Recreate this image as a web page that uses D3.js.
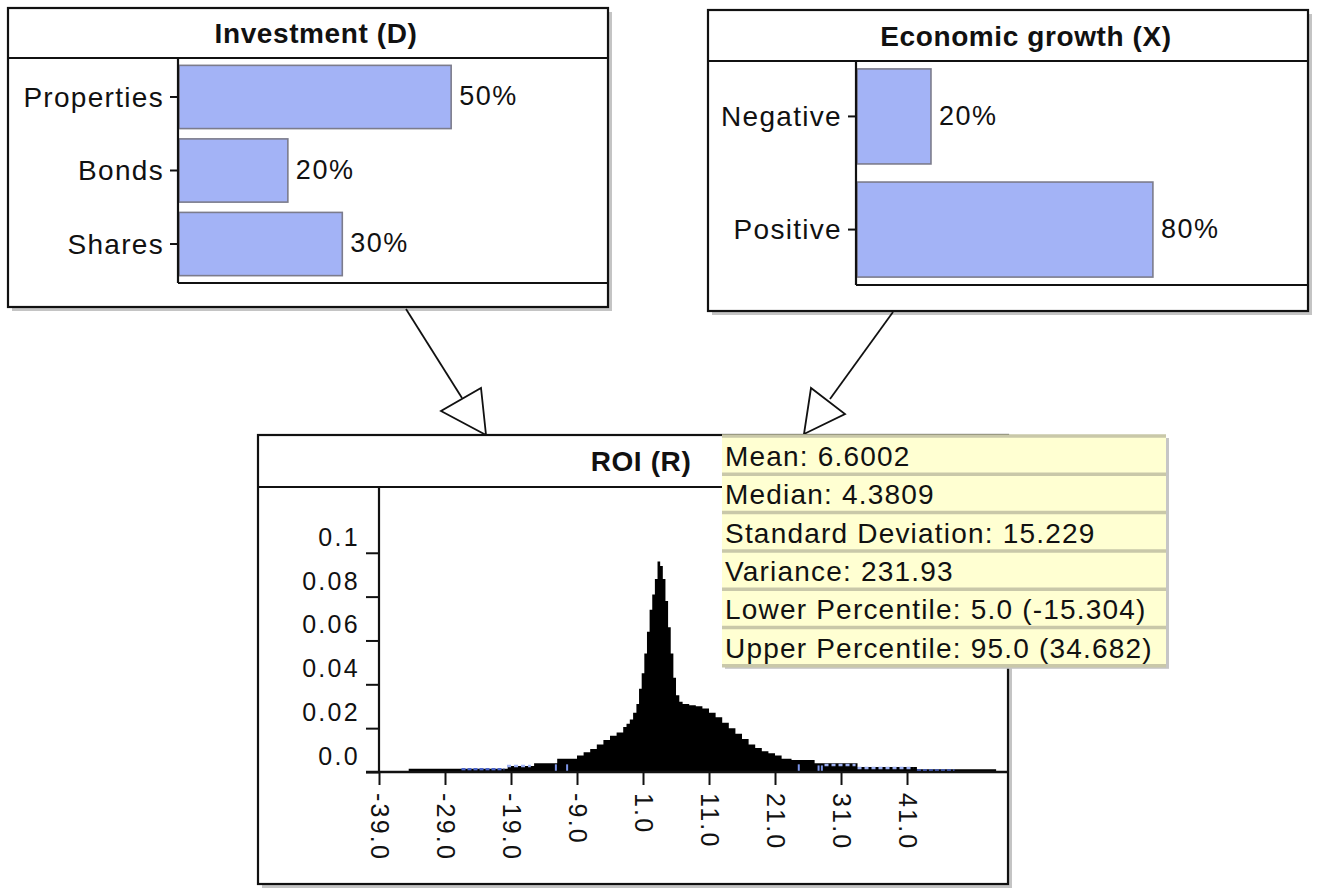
<!DOCTYPE html>
<html>
<head>
<meta charset="utf-8">
<script src="https://cdn.jsdelivr.net/npm/d3@7"></script>
<style>
  body { margin: 0; background: #fff; }
  text { font-family: "Liberation Sans", Arial, sans-serif; fill: #111; }
</style>
</head>
<body>
<svg id="chart" width="1317" height="888"></svg>
<script>
// node: Investment (D)
const investCats = ["Properties", "Bonds", "Shares"];
const investVals = [0.5, 0.2, 0.3];

// node: Economic growth (X)
const growthCats = ["Negative", "Positive"];
const growthVals = [0.2, 0.8];

// node: ROI (R) - histogram, bin start edges (last one closes the final bin)
const roiEdges = [-39, -34.5, -19.5, -15.5, -12, -9, -8, -7, -6, -5, -4, -3, -2, -1.5, -1, -0.5,
  0, 0.4, 0.8, 1.2, 1.6, 2.0, 2.4, 2.8, 3.2, 3.6, 4.0, 4.4, 4.8, 5.2, 5.6, 6.0, 6.5,
  7, 8, 9, 10, 11, 12, 13, 14, 15, 16, 17, 18, 19, 20, 21, 22, 23.5, 27, 33.5, 42.5, 54.5, 56.3];
const roiDensity = [0.0004, 0.0015, 0.0027, 0.004, 0.006, 0.0075, 0.009, 0.0105, 0.0125, 0.0146, 0.0165, 0.018, 0.0205, 0.022, 0.024, 0.027,
  0.031, 0.038, 0.045, 0.054, 0.064, 0.074, 0.081, 0.088, 0.096, 0.094, 0.088, 0.078, 0.066, 0.054, 0.043, 0.035, 0.032,
  0.031, 0.0305, 0.030, 0.029, 0.027, 0.025, 0.0225, 0.020, 0.0175, 0.015, 0.0125, 0.011, 0.0095, 0.0085, 0.0075, 0.006, 0.0055, 0.004, 0.0023, 0.0012, 0.0005];
const roiYTicks = [0, 0.02, 0.04, 0.06, 0.08, 0.1];
const roiXTicks = [-39, -29, -19, -9, 1, 11, 21, 31, 41];

// little blue marks near the baseline: [from, to, level, kind]
const blueMarks = [
  [-26.5, -20, 0.0012, "dark"], [-19.6, -16, 0.0027, "light"],
  [-12.2, -12.2, 0.0035, "tick"], [-10.5, -10.5, 0.0035, "tick"],
  [24.6, 24.6, 0.0035, "tick"], [27.6, 27.6, 0.003, "tick"], [28.1, 28.1, 0.003, "tick"],
  [28.5, 33.2, 0.0032, "light"], [33.5, 42, 0.0018, "light"], [42.5, 48.2, 0.0007, "dark"]
];

// tooltip
const statNames = ["Mean", "Median", "Standard Deviation", "Variance", "Lower Percentile", "Upper Percentile"];
const statValues = ["6.6002", "4.3809", "15.229", "231.93", "5.0 (-15.304)", "95.0 (34.682)"];

const svg = d3.select("#chart");
svg.append("rect").attr("width", 1317).attr("height", 888).attr("fill", "#fff");

const barFill = "#a3b3f6";
const barStroke = "#7c7c8c";

function drawNode(b) {
  const g = svg.append("g");
  g.append("rect").attr("x", b.x + 4).attr("y", b.y + 4).attr("width", b.w).attr("height", b.h)
    .attr("fill", "#c4c4c4");
  g.append("rect").attr("x", b.x).attr("y", b.y).attr("width", b.w).attr("height", b.h)
    .attr("fill", "#fff").attr("stroke", "#111").attr("stroke-width", 2.2);
  g.append("line").attr("x1", b.x).attr("x2", b.x + b.w)
    .attr("y1", b.y + b.titleH).attr("y2", b.y + b.titleH)
    .attr("stroke", "#111").attr("stroke-width", 2.2);
  g.append("text").attr("x", b.titleX).attr("y", b.y + b.titleH / 2 + 10)
    .attr("text-anchor", "middle").attr("font-size", 28).attr("font-weight", "bold")
    .attr("letter-spacing", 0.6).text(b.title);
  return g;
}

function drawBars(b, cats, vals, opt) {
  const g = drawNode(b);
  const top = b.y + b.titleH;
  const x = d3.scaleLinear().domain([0, opt.max]).range([opt.axisX, b.x + b.w]);
  const y = d3.scaleBand().domain(cats).range([top, opt.bottom])
    .paddingInner(opt.pi).paddingOuter(opt.po);

  g.selectAll(".bar").data(cats).enter().append("rect")
    .attr("x", x(0) + 1).attr("y", d => y(d))
    .attr("width", (d, i) => x(vals[i]) - x(0))
    .attr("height", y.bandwidth())
    .attr("fill", barFill).attr("stroke", barStroke).attr("stroke-width", 1.6);

  g.selectAll(".pct").data(cats).enter().append("text")
    .attr("x", (d, i) => x(vals[i]) + 9).attr("y", d => y(d) + y.bandwidth() / 2)
    .attr("dy", "0.3em").attr("font-size", 27).attr("letter-spacing", 1.5)
    .text((d, i) => d3.format(".0%")(vals[i]));

  const ax = g.append("g").attr("transform", `translate(${opt.axisX},0)`)
    .call(d3.axisLeft(y).tickSize(8).tickSizeOuter(0).tickPadding(6));
  ax.select(".domain").remove();
  ax.selectAll(".tick line").attr("stroke", "#111").attr("stroke-width", 2);
  ax.selectAll(".tick text").attr("font-size", 28).attr("letter-spacing", 1.3)
    .attr("fill", "#111").attr("font-family", "Liberation Sans, Arial, sans-serif").attr("dy", "0.34em");

  g.append("line").attr("x1", opt.axisX).attr("x2", opt.axisX).attr("y1", top).attr("y2", opt.bottom)
    .attr("stroke", "#111").attr("stroke-width", 2.2);
  g.append("line").attr("x1", opt.axisX).attr("x2", b.x + b.w).attr("y1", opt.bottom).attr("y2", opt.bottom)
    .attr("stroke", "#111").attr("stroke-width", 2.2);
}

drawBars({ x: 8, y: 8, w: 600, h: 299, titleH: 50, title: "Investment (D)", titleX: 316 },
  investCats, investVals, { axisX: 178, bottom: 283, max: 0.79, pi: 0.14, po: 0.1 });
drawBars({ x: 708, y: 10, w: 600, h: 301, titleH: 51, title: "Economic growth (X)", titleX: 1026 },
  growthCats, growthVals, { axisX: 856, bottom: 285, max: 1.222, pi: 0.16, po: 0.07 });

// arrows
function arrow(line, tri) {
  svg.append("line").attr("x1", line[0]).attr("y1", line[1]).attr("x2", line[2]).attr("y2", line[3])
    .attr("stroke", "#111").attr("stroke-width", 1.8);
  svg.append("polygon").attr("points", tri.map(p => p.join(",")).join(" "))
    .attr("fill", "#fff").attr("stroke", "#111").attr("stroke-width", 1.8);
}
arrow([406, 309, 462, 398], [[486, 435], [441, 411], [481, 388]]);
arrow([893, 312, 830, 399], [[804, 434], [811, 388], [845, 414]]);

// ROI node
const roiBox = { x: 258, y: 435, w: 750, h: 449, titleH: 52, title: "ROI (R)", titleX: 641 };
const rg = drawNode(roiBox);
const axX = 379, axY = 772;
const rx = d3.scaleLinear().domain([-39, 56.3]).range([axX, roiBox.x + roiBox.w]);
const ry = d3.scaleLinear().domain([0, 0.13]).range([axY, roiBox.y + roiBox.titleH]);

const pts = roiEdges.map((e, i) => [e, roiDensity[Math.min(i, roiDensity.length - 1)]]);
rg.append("path").datum(pts)
  .attr("d", d3.area().x(d => rx(d[0])).y0(ry(0)).y1(d => ry(d[1])).curve(d3.curveStepAfter))
  .attr("fill", "#000");

blueMarks.forEach(m => {
  if (m[3] === "tick") {
    rg.append("line").attr("x1", rx(m[0])).attr("x2", rx(m[0]))
      .attr("y1", ry(m[2])).attr("y2", ry(0) - 1)
      .attr("stroke", "#7d95e8").attr("stroke-width", 2);
  } else {
    rg.append("line").attr("x1", rx(m[0])).attr("x2", rx(m[1]))
      .attr("y1", ry(m[2])).attr("y2", ry(m[2]))
      .attr("stroke", m[3] === "dark" ? "#4a63c8" : "#9fb1f2").attr("stroke-width", 2.5)
      .attr("stroke-dasharray", m[3] === "dark" ? "4,2" : "4,3");
  }
});

// y axis
const yAx = rg.append("g").attr("transform", `translate(${axX},0)`)
  .call(d3.axisLeft(ry).tickValues(roiYTicks).tickSize(13).tickSizeOuter(0)
    .tickFormat(d => d === 0 ? "0.0" : String(d)));
yAx.select(".domain").remove();
yAx.selectAll(".tick line").attr("stroke", "#111").attr("stroke-width", 2);
yAx.selectAll(".tick text").attr("font-size", 25).attr("letter-spacing", 2.3)
  .attr("fill", "#111").attr("font-family", "Liberation Sans, Arial, sans-serif")
  .attr("x", -19).attr("dy", "-0.3em");
rg.append("line").attr("x1", axX).attr("x2", axX).attr("y1", roiBox.y + roiBox.titleH).attr("y2", axY)
  .attr("stroke", "#111").attr("stroke-width", 2.2);

// x axis
const xAx = rg.append("g").attr("transform", `translate(0,${axY})`)
  .call(d3.axisBottom(rx).tickValues(roiXTicks).tickSize(13).tickSizeOuter(0).tickFormat(d => d.toFixed(1)));
xAx.select(".domain").remove();
xAx.selectAll(".tick line").attr("stroke", "#111").attr("stroke-width", 2);
xAx.selectAll(".tick text").attr("font-size", 25).attr("letter-spacing", 2.2)
  .attr("fill", "#111").attr("font-family", "Liberation Sans, Arial, sans-serif")
  .attr("text-anchor", "start").attr("y", 0).attr("dy", "0.36em")
  .attr("transform", "translate(0,21) rotate(90)");
rg.append("line").attr("x1", 366).attr("x2", roiBox.x + roiBox.w).attr("y1", axY).attr("y2", axY)
  .attr("stroke", "#111").attr("stroke-width", 2.4);

// tooltip with statistics
const tip = { x: 722, y: 436, w: 444, rowH: 38.3 };
const tg = svg.append("g");
tg.append("rect").attr("x", tip.x + 3).attr("y", tip.y + 2)
  .attr("width", tip.w).attr("height", tip.rowH * statNames.length + 1).attr("fill", "#c6c6c6");
tg.append("rect").attr("x", tip.x).attr("y", tip.y)
  .attr("width", tip.w).attr("height", tip.rowH * statNames.length).attr("fill", "#ffffd2");
const rowY = d3.scaleBand().domain(d3.range(statNames.length))
  .range([tip.y, tip.y + tip.rowH * statNames.length]);
tg.selectAll(".sep").data(d3.range(statNames.length + 1)).enter().append("line")
  .attr("x1", tip.x).attr("x2", tip.x + tip.w)
  .attr("y1", i => tip.y + i * rowY.step()).attr("y2", i => tip.y + i * rowY.step())
  .attr("stroke", "#c9c8a9").attr("stroke-width", 3.5);
tg.selectAll(".stat").data(statNames).enter().append("text")
  .attr("x", tip.x + 3).attr("y", (d, i) => rowY(i) + rowY.bandwidth() / 2 + 11)
  .attr("font-size", 28).attr("letter-spacing", 1.2)
  .text((d, i) => `${d}: ${statValues[i]}`);
</script>
</body>
</html>
